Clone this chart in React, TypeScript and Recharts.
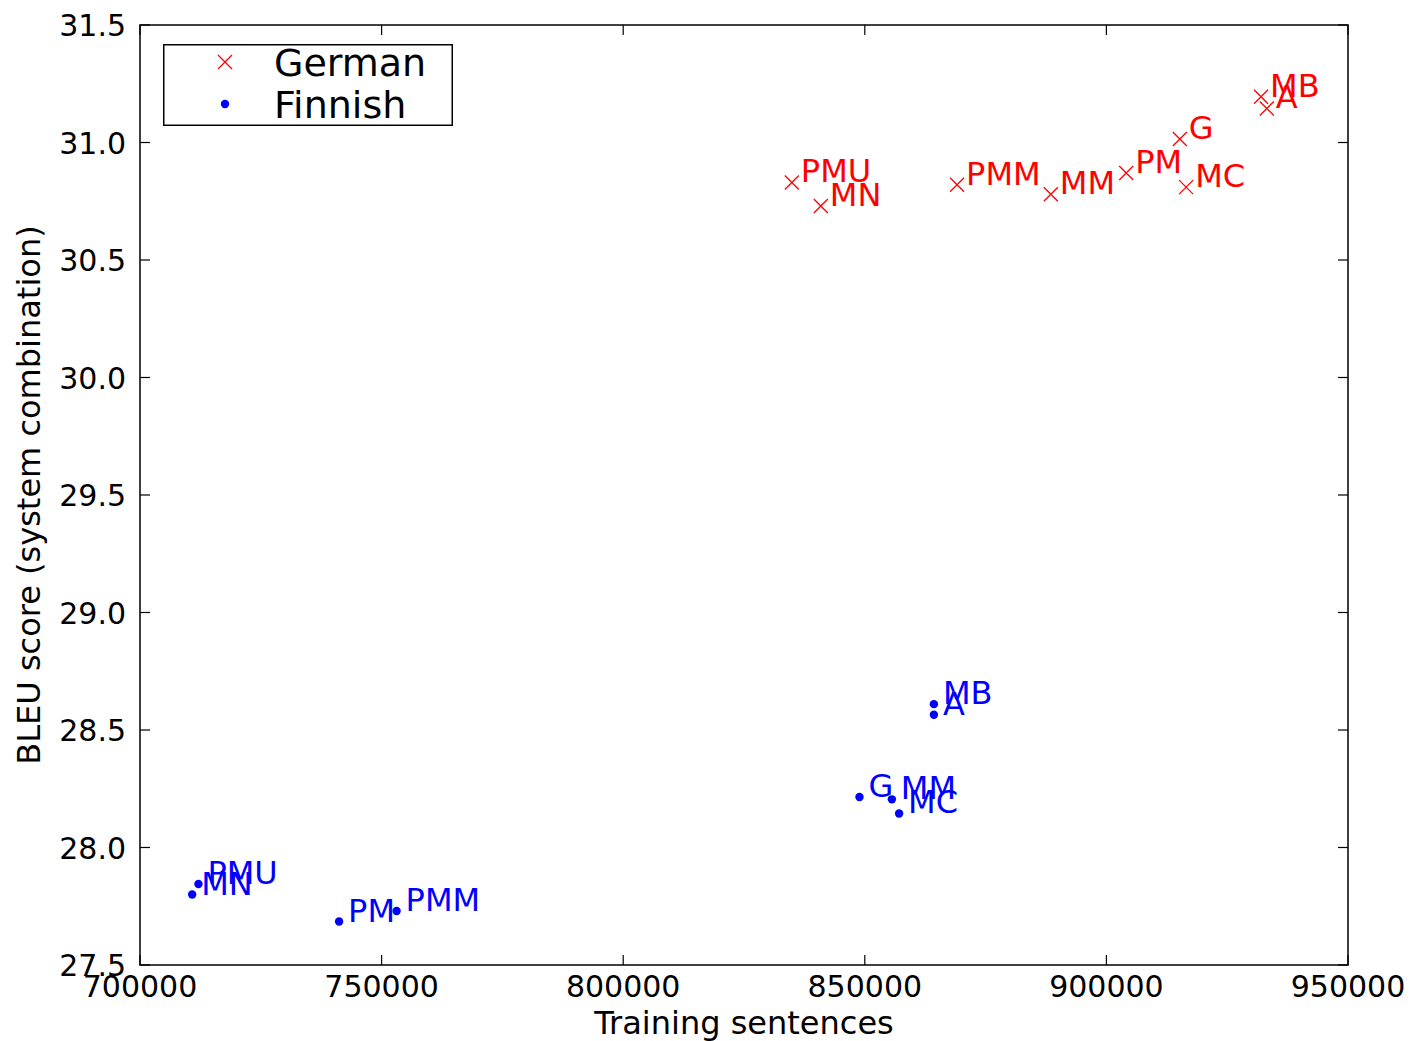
import { ScatterChart, Scatter, XAxis, YAxis, ReferenceArea, Legend, Label } from 'recharts'

const germanSystems = ['PMU', 'MN', 'PMM', 'MM', 'PM', 'G', 'MC', 'MB', 'A']
const germanSentences = [834900, 840900, 869100, 888500, 904100, 915200, 916500, 932000, 933200]
const germanBleu = [30.83, 30.73, 30.82, 30.78, 30.87, 31.015, 30.81, 31.195, 31.145]

const finnishSystems = ['MN', 'PMU', 'PM', 'PMM', 'G', 'MM', 'MC', 'MB', 'A']
const finnishSentences = [710800, 712100, 741200, 753100, 848900, 855600, 857100, 864300, 864300]
const finnishBleu = [27.8, 27.845, 27.685, 27.73, 28.215, 28.205, 28.145, 28.61, 28.565]

const seriesOrder = ['German', 'Finnish']
const xTicks = [700000, 750000, 800000, 850000, 900000, 950000]
const yTicks = [27.5, 28, 28.5, 29, 29.5, 30, 30.5, 31, 31.5]

const germanData = germanSystems.map((name, i) => ({ name, x: germanSentences[i], y: germanBleu[i] }))
const finnishData = finnishSystems.map((name, i) => ({ name, x: finnishSentences[i], y: finnishBleu[i] }))

const FONT = '"DejaVu Sans", sans-serif'
const RED = '#ff0000'
const BLUE = '#0000ff'
const W = 1404
const H = 1033
const TOP = 17
const BOTTOM = 957
const LEFT = 132
const RIGHT = 1340
const TICK = 10

function XTick(props: any) {
  const { x, payload } = props
  return (
    <g>
      <line x1={x} x2={x} y1={BOTTOM} y2={BOTTOM - TICK} stroke="#000" strokeWidth={1.2} />
      <line x1={x} x2={x} y1={TOP} y2={TOP + TICK} stroke="#000" strokeWidth={1.2} />
      <text x={x} y={BOTTOM + 32} textAnchor="middle" fontSize={30} fontFamily={FONT} fill="#000">
        {payload.value}
      </text>
    </g>
  )
}

function YTick(props: any) {
  const { y, payload } = props
  return (
    <g>
      <line x1={LEFT} x2={LEFT + TICK} y1={y} y2={y} stroke="#000" strokeWidth={1.2} />
      <line x1={RIGHT} x2={RIGHT - TICK} y1={y} y2={y} stroke="#000" strokeWidth={1.2} />
      <text x={LEFT - 14} y={y + 11} textAnchor="end" fontSize={30} fontFamily={FONT} fill="#000">
        {payload.value.toFixed(1)}
      </text>
    </g>
  )
}

function CrossMark(props: any) {
  const { cx, cy, payload } = props
  return (
    <g>
      <path
        d={`M${cx - 7},${cy - 7}L${cx + 7},${cy + 7}M${cx - 7},${cy + 7}L${cx + 7},${cy - 7}`}
        stroke={RED}
        strokeWidth={1.3}
        fill="none"
      />
      <text x={cx + 9} y={cy} fill={RED} fontSize={32} fontFamily={FONT}>
        {payload.name}
      </text>
    </g>
  )
}

function DotMark(props: any) {
  const { cx, cy, payload } = props
  return (
    <g>
      <circle cx={cx} cy={cy} r={4.2} fill={BLUE} />
      <text x={cx + 9} y={cy} fill={BLUE} fontSize={32} fontFamily={FONT}>
        {payload.name}
      </text>
    </g>
  )
}

function LegendBox(props: any) {
  const items = [...(props.payload || [])].sort(
    (a: any, b: any) => seriesOrder.indexOf(a.value) - seriesOrder.indexOf(b.value)
  )
  return (
    <svg width={290} height={82} style={{ display: 'block' }}>
      <rect x={0.75} y={0.75} width={288.5} height={80.5} fill="#fff" stroke="#000" strokeWidth={1.5} />
      {items.map((item: any, i: number) => {
        const cy = 18 + i * 42
        return (
          <g key={item.value}>
            {item.value === 'German' ? (
              <path
                d={`M55,${cy - 7}L69,${cy + 7}M55,${cy + 7}L69,${cy - 7}`}
                stroke={RED}
                strokeWidth={1.3}
              />
            ) : (
              <circle cx={62} cy={cy} r={4.2} fill={BLUE} />
            )}
            <text x={111} y={cy + 14} fontSize={38} fontFamily={FONT} fill="#000">
              {item.value}
            </text>
          </g>
        )
      })}
    </svg>
  )
}

export default function App() {
  return (
    <ScatterChart width={W} height={H} margin={{ top: TOP, right: W - RIGHT, bottom: 0, left: 0 }}>
      <XAxis
        type="number"
        dataKey="x"
        domain={[700000, 950000]}
        ticks={xTicks}
        interval={0}
        height={H - BOTTOM}
        axisLine={false}
        tickLine={false}
        tick={XTick}
      >
        <Label
          content={() => (
            <text x={(LEFT + RIGHT) / 2} y={1026} textAnchor="middle" fontSize={32} fontFamily={FONT} fill="#000">
              Training sentences
            </text>
          )}
        />
      </XAxis>
      <YAxis
        type="number"
        dataKey="y"
        domain={[27.5, 31.5]}
        ticks={yTicks}
        interval={0}
        width={LEFT}
        axisLine={false}
        tickLine={false}
        tick={YTick}
      >
        <Label
          content={() => (
            <text
              transform={`translate(32, ${(TOP + BOTTOM) / 2}) rotate(-90)`}
              textAnchor="middle"
              fontSize={32}
              fontFamily={FONT}
              fill="#000"
            >
              BLEU score (system combination)
            </text>
          )}
        />
      </YAxis>
      <ReferenceArea x1={700000} x2={950000} y1={27.5} y2={31.5} fill="none" stroke="#000" strokeWidth={1.5} />
      <Scatter name="German" data={germanData} fill={RED} shape={CrossMark} isAnimationActive={false} />
      <Scatter name="Finnish" data={finnishData} fill={BLUE} shape={DotMark} isAnimationActive={false} />
      <Legend
        layout="vertical"
        align="center"
        verticalAlign="middle"
        content={LegendBox}
        wrapperStyle={{ top: 36, left: 155, width: 290, height: 82 }}
      />
    </ScatterChart>
  )
}
